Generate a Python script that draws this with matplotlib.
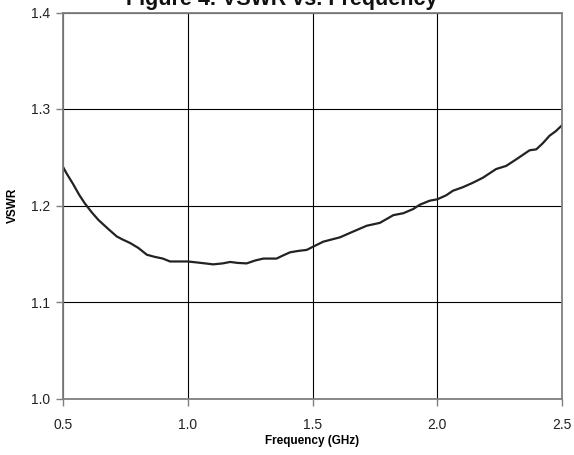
import matplotlib.pyplot as plt
import numpy as np

plt.rcParams['font.family'] = ['Liberation Sans', 'DejaVu Sans']

# VSWR curve
freq_ghz = [0.50, 0.515, 0.541, 0.565, 0.588, 0.615, 0.642, 0.68, 0.715, 0.737,
            0.77, 0.802, 0.836, 0.864, 0.90, 0.929, 0.97, 1.00, 1.036, 1.07,
            1.102, 1.14, 1.17, 1.20, 1.236, 1.27, 1.303, 1.356, 1.38, 1.41,
            1.445, 1.477, 1.50, 1.543, 1.58, 1.61, 1.663, 1.717, 1.77, 1.824,
            1.864, 1.904, 1.93, 1.97, 2.00, 2.036, 2.063, 2.103, 2.143, 2.183,
            2.236, 2.276, 2.317, 2.37, 2.397, 2.423, 2.45, 2.475, 2.50]
vswr = [1.240, 1.233, 1.222, 1.211, 1.202, 1.193, 1.185, 1.176, 1.168, 1.165,
        1.161, 1.156, 1.149, 1.147, 1.145, 1.142, 1.142, 1.142, 1.141, 1.140,
        1.139, 1.140, 1.1415, 1.1405, 1.140, 1.143, 1.145, 1.145, 1.148, 1.1515,
        1.153, 1.154, 1.157, 1.1625, 1.165, 1.167, 1.173, 1.179, 1.182, 1.190,
        1.192, 1.1964, 1.2008, 1.205, 1.2064, 1.2106, 1.2153, 1.219, 1.2236, 1.2288,
        1.2378, 1.241, 1.2479, 1.2572, 1.2582, 1.2645, 1.2723, 1.277, 1.2831]

x_ticks = [0.5, 1.0, 1.5, 2.0, 2.5]
y_ticks = [1.0, 1.1, 1.2, 1.3, 1.4]

fig = plt.figure(figsize=(5.74, 4.55), dpi=100)
ax = fig.add_axes([63 / 574, 1 - 398.5 / 455, 499 / 574, 386 / 455])

ax.plot(freq_ghz, vswr, color='#222222', linewidth=1.6)

ax.set_xlim(0.5, 2.5)
ax.set_ylim(1.0, 1.4)
ax.set_xticks(x_ticks)
ax.set_yticks(y_ticks)
ax.set_xticklabels([f'{v:.1f}' for v in x_ticks])
ax.set_yticklabels([f'{v:.1f}' for v in y_ticks])
ax.grid(True, color='black', linewidth=0.8)
ax.set_axisbelow(True)

for s in ax.spines.values():
    s.set_color('#808080')
    s.set_linewidth(1.3)
ax.tick_params(direction='out', length=5, width=1, color='#808080',
               labelsize=10, labelcolor='#222222')
ax.tick_params(axis='x', pad=9)
ax.tick_params(axis='y', pad=4)

ax.set_xlabel('Frequency (GHz)', fontsize=8.5, fontweight='bold', labelpad=2)
ax.set_ylabel('VSWR', fontsize=8.5, fontweight='bold', labelpad=9)

# title sits partly above the top edge, as in the reference
fig.text(0.491, 1 - 5 / 455, 'Figure 4. VSWR vs. Frequency', ha='center',
         va='baseline', fontsize=15.5, fontweight='bold', color='#111111')

fig.savefig('out.png', dpi=100)
